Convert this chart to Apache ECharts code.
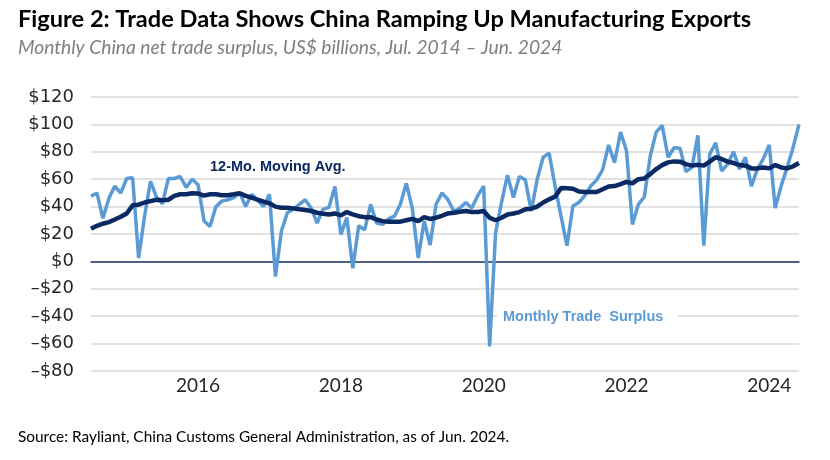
<!DOCTYPE html>
<html>
<head>
<meta charset="utf-8">
<script src="https://cdn.jsdelivr.net/npm/echarts@6/dist/echarts.min.js"></script>
<style>
html,body{margin:0;padding:0;background:#fff;}
#c{width:830px;height:460px;}
</style>
</head>
<body>
<div id="c"></div>
<script>
// Monthly categories Jul 2014 – Jun 2024
var startYear = 2014, startMonth = 7, monthCount = 120;
var months = [];
for (var k = 0; k < monthCount; k++) {
  var m = startMonth - 1 + k;
  var y = startYear + Math.floor(m / 12);
  var mm = (m % 12) + 1;
  months.push(y + '-' + (mm < 10 ? '0' + mm : mm));
}
var yearTickLabels = ['2016', '2018', '2020', '2022', '2024'];

var monthlySurplus = [
  47.5, 50, 31.5, 46, 55, 49.8,
  60.5, 61, 2.5, 33, 58.5, 47, 42, 60.5, 60.5, 62, 54, 60,
  56, 29.5, 25.5, 40, 44, 45, 46.5, 50, 40, 49, 45, 40,
  49, -11, 22, 35.5, 38, 41.7, 45, 39, 28, 38, 39.5, 54.7,
  19.6, 32, -5, 26, 23, 41.7, 28, 27, 31, 33, 41.7, 57,
  39, 2.5, 29.5, 12, 41.7, 50, 45, 36.5, 39, 43, 39, 48,
  55, -62, 20.8, 43, 63, 46.6, 62, 59.5, 36.8, 60, 76, 79,
  55, 33, 11.5, 40.5, 43, 48, 55, 59.5, 67, 85, 72, 94.4,
  81, 27, 41.7, 47, 77, 94.4, 99.3, 76, 83, 82.6, 65.5, 68.6,
  92, 11.5, 78.4, 86.5, 66, 71, 80, 67.4, 76, 55, 67.4, 74.8,
  85, 39, 55, 68.6, 83, 100
];

var movingAvg = [
  23.8, 26, 27.5, 28.7, 30.6, 32.6,
  35, 41, 41.4, 43, 44, 45, 44.6, 45, 47.8, 49, 49, 49.8,
  49.5, 48, 49, 49, 48.3, 48.3, 49, 49.8, 47.8, 46.6, 45, 43.6,
  42.4, 40, 39.2, 39.2, 38.7, 38, 37.5, 36.8, 35.5, 34.8, 34.3, 35,
  33.6, 36, 34.3, 33, 32.3, 32.3, 30.6, 29.4, 29, 29, 29, 30,
  31, 29.4, 32.3, 31, 31.9, 33.3, 35, 35.5, 36.3, 36.8, 36, 36,
  36.8, 31.9, 30, 31.9, 34.3, 35, 36, 38, 38.5, 40, 43, 45.3,
  47.3, 53.5, 53.4, 53, 51, 50.7, 50.7, 50.7, 52.7, 54.7, 55, 56.4,
  58, 57, 60, 60.5, 63.7, 67.4, 70.3, 72.3, 73, 72.8, 71, 69.9,
  70.6, 69.9, 72.8, 76, 74.8, 72.8, 71.8, 70.3, 69.9, 67.9, 67.9, 68.6,
  67.9, 70.3, 68.6, 67.9, 69.4, 71.8
];

var titleText = 'Figure 2: Trade Data Shows China Ramping Up Manufacturing Exports';
var subtitleText = 'Monthly China net trade surplus, US$ billions, Jul. 2014 \u2013 Jun. 2024';
var sourceText = 'Source: Rayliant, China Customs General Administration, as of Jun. 2024.';

function isYearTick(idx) {
  var c = months[idx];
  return c.slice(5) === '01' && yearTickLabels.indexOf(c.slice(0, 4)) >= 0;
}

var chart = echarts.init(document.getElementById('c'), null, {renderer: 'canvas'});
chart.setOption({
  backgroundColor: '#ffffff',
  animation: false,
  grid: {left: 91, right: 31, top: 97, bottom: 89, containLabel: false},
  xAxis: {
    type: 'category',
    data: months,
    boundaryGap: false,
    axisLine: {show: true, onZero: true, lineStyle: {color: '#1f3864', width: 1.5}},
    axisTick: {show: false},
    splitLine: {show: false},
    axisLabel: {
      interval: function (idx) { return isYearTick(idx); },
      formatter: function (v) { return v.slice(0, 4); },
      hideOverlap: false,
      color: '#262626',
      fontFamily: 'Lato',
      fontSize: 19,
      margin: 5
    }
  },
  yAxis: {
    type: 'value',
    min: -80,
    max: 120,
    interval: 20,
    axisLine: {show: false},
    axisTick: {show: false},
    splitLine: {lineStyle: {color: '#d9d9d9', width: 1.5}},
    axisLabel: {
      formatter: function (v) { return (v < 0 ? '\u2013$' + Math.abs(v) : '$' + v); },
      color: '#262626',
      fontFamily: 'DejaVu Sans',
      fontSize: 18,
      margin: 17
    }
  },
  series: [
    {
      name: 'Monthly Trade Surplus',
      type: 'line',
      data: monthlySurplus,
      symbol: 'none',
      lineStyle: {color: '#5b9bd5', width: 3.5},
      z: 2
    },
    {
      name: '12-Mo. Moving Avg.',
      type: 'line',
      data: movingAvg,
      symbol: 'none',
      lineStyle: {color: '#0b2a63', width: 4.5},
      z: 3
    }
  ],
  graphic: [
    {type: 'text', left: 18, top: 7, style: {text: titleText, fill: '#000', font: 'bold 23.6px Lato'}},
    {type: 'text', left: 18, top: 38, style: {text: subtitleText, fill: '#7f7f7f', font: 'italic 19.2px Lato'}},
    {type: 'text', left: 18, top: 430, style: {text: sourceText, fill: '#000', font: '15.4px Lato'}},
    {type: 'text', left: 210, top: 159, z: 10, style: {text: '12-Mo. Moving Avg.', fill: '#0b2a63', font: 'bold 14.5px "Liberation Sans"'}},
    {type: 'rect', left: 497, top: 307, z: 9, shape: {width: 181, height: 20}, style: {fill: '#ffffff'}},
    {type: 'text', left: 503, top: 309, z: 10, style: {text: 'Monthly Trade  Surplus', fill: '#5b9bd5', font: 'bold 14.5px "Liberation Sans"'}}
  ]
});
</script>
</body>
</html>
